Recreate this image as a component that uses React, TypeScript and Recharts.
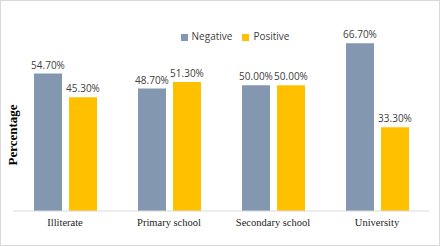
import { BarChart, Bar, XAxis, YAxis, Legend, LabelList } from 'recharts';

const categories = ['Illiterate', 'Primary school', 'Secondary school', 'University'];
const negative = [54.7, 48.7, 50.0, 66.7];
const positive = [45.3, 51.3, 50.0, 33.3];

const data = categories.map((name, i) => ({ name, Negative: negative[i], Positive: positive[i] }));

const fmt = (v: any) => `${Number(v).toFixed(2)}%`;

export default function App() {
  return (
    <div style={{ position: 'fixed', top: 0, left: 0, width: 438, height: 244, border: '1px solid #d9d9d9', background: '#fff' }}>
      <BarChart
        width={438}
        height={244}
        data={data}
        margin={{ top: 10, right: 10, bottom: 0, left: 0 }}
        barGap={7}
        barSize={28}
      >
        <XAxis
          dataKey="name"
          height={34}
          axisLine={{ stroke: '#d9d9d9' }}
          tickLine={false}
          tick={{ fill: '#222', fontSize: 10.5, fontFamily: '"Liberation Serif", serif' }}
        />
        <YAxis
          width={12}
          domain={[0, 74]}
          axisLine={false}
          tickLine={false}
          tick={false}
          label={{ value: 'Percentage', angle: -90, position: 'insideLeft', dx: 6, dy: 17, style: { fill: '#000', fontWeight: 700, fontSize: 13, fontFamily: '"Liberation Serif", serif', textAnchor: 'middle' } }}
        />
        <Legend
          verticalAlign="top"
          align="center"
          iconType="square"
          iconSize={7}
          wrapperStyle={{ top: 28, left: 25, fontSize: 10, fontFamily: '"Open Sans", sans-serif', color: '#404040' }}
          formatter={(v: any) => <span style={{ color: '#404040' }}>{v}</span>}
        />
        <Bar dataKey="Negative" fill="#8497B0" isAnimationActive={false}>
          <LabelList dataKey="Negative" position="top" offset={5} formatter={fmt} style={{ fill: '#404040', fontSize: 10, fontFamily: '"Open Sans", sans-serif' }} />
        </Bar>
        <Bar dataKey="Positive" fill="#FFC000" isAnimationActive={false}>
          <LabelList dataKey="Positive" position="top" offset={5} formatter={fmt} style={{ fill: '#404040', fontSize: 10, fontFamily: '"Open Sans", sans-serif' }} />
        </Bar>
      </BarChart>
    </div>
  );
}
